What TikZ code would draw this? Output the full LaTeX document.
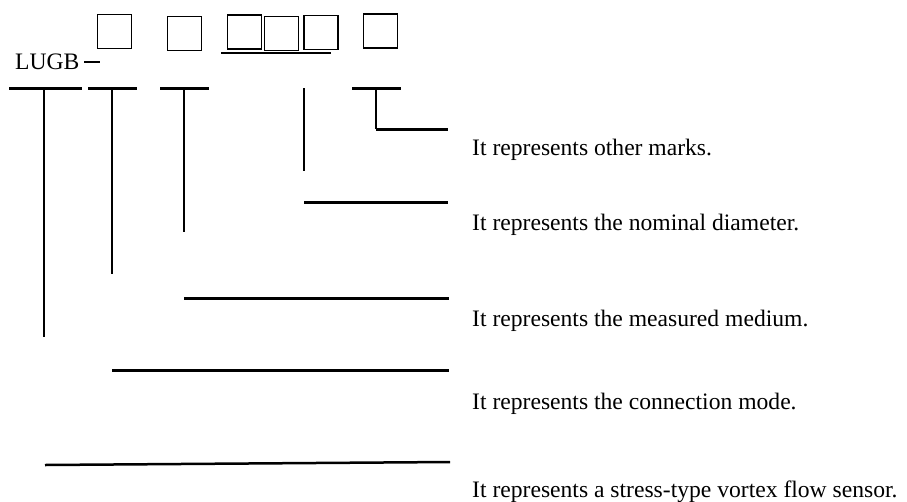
\documentclass[tikz,border=0pt]{standalone}
\usepackage{fontspec}
\setmainfont{Liberation Serif}
\begin{document}
\begin{tikzpicture}[x=1pt,y=-1pt,
  lbl/.style={anchor=base west,inner sep=0pt,font=\fontsize{23.6}{27}\selectfont},
  slot/.style={draw,line width=1.6pt,minimum width=34pt,minimum height=34pt,inner sep=0pt},
  stub/.style={line width=3pt},
  vert/.style={line width=1.8pt},
  lead/.style={line width=3pt}]
\useasboundingbox (0,0) rectangle (907,501);
% code text
\node[anchor=base west,inner sep=0pt,font=\fontsize{23.6}{27}\selectfont] (code) at (15,69) {LUGB};
\coordinate (dA) at (84,62); \coordinate (dB) at (100,62);
\draw[line width=1.4pt] (dA) -- (dB);
% slots
\node[slot] (b1) at (114.5,31.5) {};
\node[slot] (b2) at (184.5,33.5) {};
\node[slot] (b3) at (244.5,32) {};
\node[slot] (b4) at (281.5,33.5) {};
\node[slot] (b5) at (321,32.5) {};
\node[slot] (b6) at (380.5,31) {};
\coordinate (uA) at (221,53); \coordinate (uB) at (331,53);
\draw[line width=2pt] (uA) -- (uB);
% stubs
\coordinate (s1a) at (9,88);   \coordinate (s1b) at (82,88);
\coordinate (s2a) at (88,88);  \coordinate (s2b) at (137,88);
\coordinate (s3a) at (160,88); \coordinate (s3b) at (209,88);
\coordinate (s5a) at (352,88); \coordinate (s5b) at (401,88);
\draw[stub] (s1a) -- (s1b);
\draw[stub] (s2a) -- (s2b);
\draw[stub] (s3a) -- (s3b);
\draw[stub] (s5a) -- (s5b);
% verticals
\coordinate (v1t) at (44,88);  \coordinate (v1b) at (44,337);
\coordinate (v2t) at (112,88); \coordinate (v2b) at (112,274);
\coordinate (v3t) at (184,88); \coordinate (v3b) at (184,232);
\coordinate (v4t) at (304,88); \coordinate (v4b) at (304,171);
\coordinate (v5t) at (376,88); \coordinate (v5b) at (376,129); \coordinate (v5e) at (448,129);
\draw[vert] (v1t) -- (v1b);
\draw[vert] (v2t) -- (v2b);
\draw[vert] (v3t) -- (v3b);
\draw[vert] (v4t) -- (v4b);
\draw[vert] (v5t) -- (v5b);
\draw[lead] (v5b) -- (v5e);
% leader lines
\coordinate (l4a) at (304,202); \coordinate (l4b) at (448,202);
\coordinate (l3a) at (184,298); \coordinate (l3b) at (449,298);
\coordinate (l2a) at (112,370); \coordinate (l2b) at (449,370);
\coordinate (l1a) at (45,465);  \coordinate (l1b) at (450,462);
\draw[lead] (l4a) -- (l4b);
\draw[lead] (l3a) -- (l3b);
\draw[lead] (l2a) -- (l2b);
\draw[line width=2.5pt] (l1a) -- (l1b);
% labels
\node[lbl] (t5) at (472,155) {It represents other marks.};
\node[lbl] (t4) at (472,230) {It represents the nominal diameter.};
\node[lbl] (t3) at (472,326) {It represents the measured medium.};
\node[lbl] (t2) at (472,409) {It represents the connection mode.};
\node[lbl] (t1) at (472,497) {It represents a stress-type vortex flow sensor.};
\end{tikzpicture}
\end{document}
